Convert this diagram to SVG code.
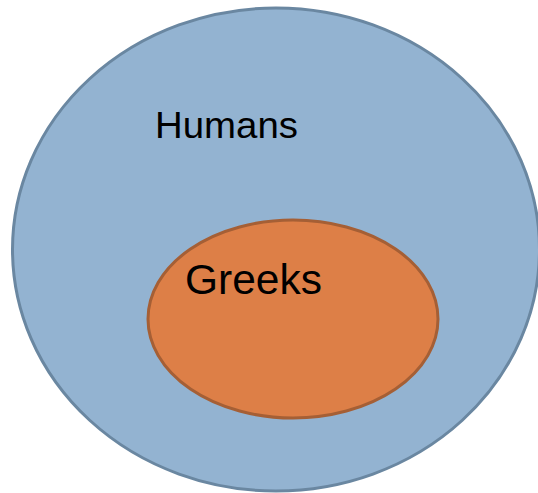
<svg xmlns="http://www.w3.org/2000/svg" width="538" height="493" viewBox="0 0 538 493">
<style>
.lbl{font-family:"Liberation Sans","DejaVu Sans",sans-serif;fill:#000}
</style>
<rect width="538" height="493" fill="#fff"/>
<g id="humans">
<ellipse cx="276" cy="249.5" rx="263.5" ry="241.5" fill="#93b3d1" stroke="#6a87a1" stroke-width="3"/>
<text class="lbl" x="155" y="138" font-size="37" textLength="143" lengthAdjust="spacingAndGlyphs">Humans</text>
</g>
<g id="greeks">
<ellipse cx="293" cy="319" rx="145" ry="99" fill="#dd7f47" stroke="#a55f35" stroke-width="3"/>
<text class="lbl" x="185" y="293.5" font-size="43" textLength="137" lengthAdjust="spacingAndGlyphs">Greeks</text>
</g>
<g id="connectors"></g>
</svg>
